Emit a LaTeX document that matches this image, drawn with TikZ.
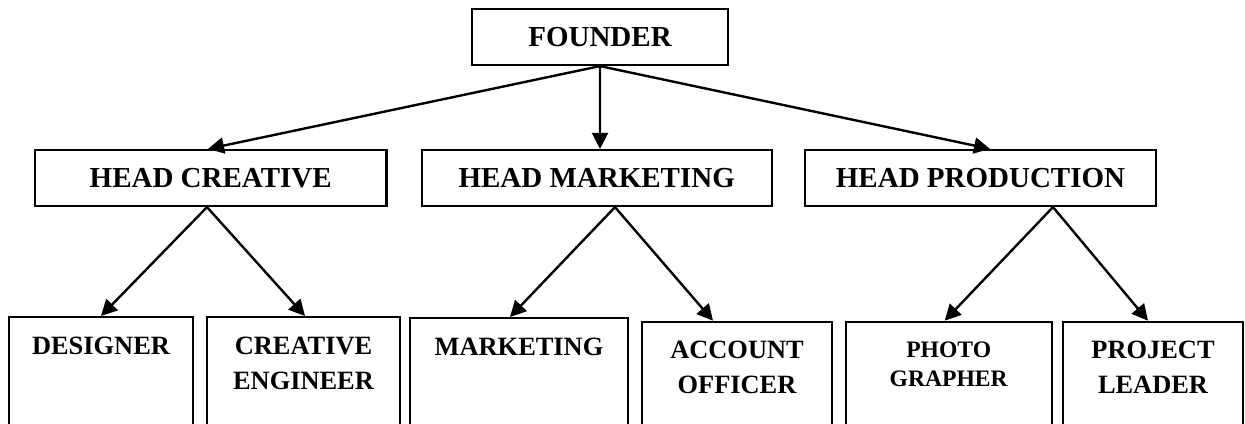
\documentclass[tikz,border=0pt]{standalone}
\usepackage{fontspec}
\setmainfont{Liberation Serif}
\usetikzlibrary{arrows.meta}

\begin{document}
\begin{tikzpicture}[
    x=0.5pt, y=-0.5pt,
    head/.style={rectangle, draw=black, line width=1.1pt, minimum width=#1, minimum height=28pt, inner sep=0pt, font=\fontsize{14.5}{17}\selectfont\bfseries},
    leaf/.style={rectangle, draw=black, line width=1.1pt, anchor=north, text width=#1, align=center, inner sep=0pt, text height=18.5pt, text depth=50pt, font=\fontsize{13.2}{17.5}\selectfont\bfseries},
    arrow/.style={-{Triangle[length=8pt, width=8pt]}, line width=1.2pt, color=black}
]
\useasboundingbox (0,0) rectangle (1245,423);
\clip (0,0) rectangle (1245,423);

\node[head=128pt] (founder) at (600,37) {FOUNDER};

% Heads
\node[head=175.75pt] (hcreative) at (210.7,178) {HEAD CREATIVE};
\node[head=175pt] (hmarketing) at (596.7,178) {HEAD MARKETING};
\node[head=175.5pt] (hproduction) at (980.5,178) {HEAD PRODUCTION};

% Staff
\node[leaf=92pt] (designer) at (101,316) {DESIGNER};
\node[leaf=96.5pt] (engineer) at (303.5,316) {CREATIVE\\ENGINEER};
\node[leaf=109pt] (marketing) at (519,317) {MARKETING};
\node[leaf=95pt] (account) at (737,320.7) {ACCOUNT\\OFFICER};
\node[leaf=103pt, text height=17.6pt, font=\fontsize{11.8}{14.5}\selectfont\bfseries] (photo) at (948.7,320.7) {PHOTO\\GRAPHER};
\node[leaf=90pt] (leader) at (1153,320.7) {PROJECT\\LEADER};

\draw[arrow] (founder.south) -- ([xshift=-1.35pt]hcreative.north);
\draw[arrow] (founder.south) -- ([xshift=1.65pt]hmarketing.north);
\draw[arrow] (founder.south) -- ([xshift=4.75pt]hproduction.north);

\draw[arrow] ([xshift=-1.85pt]hcreative.south) -- (designer.north);
\draw[arrow] ([xshift=-1.85pt]hcreative.south) -- ([xshift=0.75pt]engineer.north);
\draw[arrow] ([xshift=9.15pt]hmarketing.south) -- ([xshift=-4.5pt]marketing.north);
\draw[arrow] ([xshift=9.15pt]hmarketing.south) -- ([xshift=-12pt]account.north);
\draw[arrow] ([xshift=36.25pt]hproduction.south) -- ([xshift=-2pt]photo.north);
\draw[arrow] ([xshift=36.25pt]hproduction.south) -- ([xshift=-2.5pt]leader.north);

\end{tikzpicture}
\end{document}
